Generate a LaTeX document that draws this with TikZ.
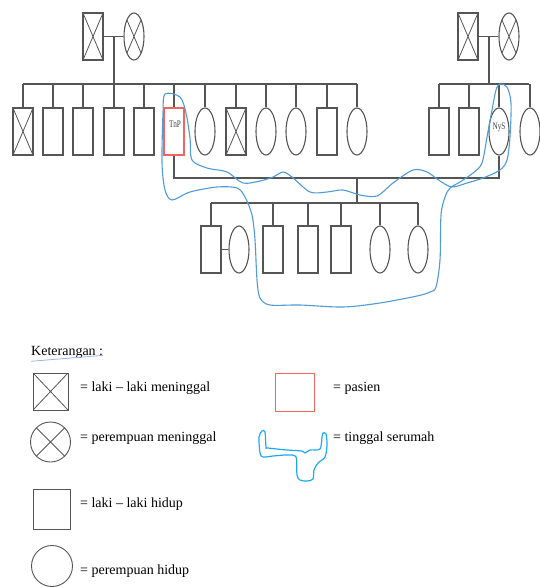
\documentclass[tikz,border=0pt]{standalone}
\usepackage{fontspec}
\setmainfont{Liberation Serif}
\usetikzlibrary{shapes.geometric}
\definecolor{lineg}{RGB}{85,85,85}
\definecolor{pasienred}{RGB}{240,100,100}
\definecolor{loopblue}{RGB}{80,155,215}
\definecolor{legblue}{RGB}{30,170,240}
\definecolor{ulblue}{RGB}{150,180,230}
\tikzset{
  lnk/.style={draw=lineg, line width=1.1pt},
  male/.style={draw=lineg, line width=1.1pt, rectangle, minimum width=20pt, minimum height=47pt, inner sep=0pt},
  female/.style={draw=lineg, line width=1.1pt, ellipse, minimum width=20pt, minimum height=47pt, inner sep=0pt},
  dead/.style={path picture={\draw[lineg, line width=0.8pt] (path picture bounding box.north west) -- (path picture bounding box.south east) (path picture bounding box.north east) -- (path picture bounding box.south west);}},
  tag/.style={font=\fontsize{10}{10}\selectfont, text=black!75, xscale=0.72, inner sep=0pt},
  legtext/.style={anchor=west, font=\fontsize{14}{16}\selectfont, inner sep=0pt, text=black},
}
\begin{document}
\begin{tikzpicture}[x=1pt,y=-1pt]
\useasboundingbox (0,0) rectangle (539,587);
% ---------- generation I ----------
\node[male,dead] (gm1) at (93,36.5) {};
\node[female,dead] (gf1) at (134,36.5) {};
\node[male,dead] (gm2) at (468,36.5) {};
\node[female,dead] (gf2) at (509,36.5) {};
\draw[lnk] (gm1.east) -- (gf1.west);
\draw[lnk] (gm2.east) -- (gf2.west);
\coordinate (d1) at (114,36.5);
\coordinate (d2) at (489,36.5);
\coordinate (b1l) at (23,84);
\coordinate (b1r) at (357,84);
\coordinate (b2l) at (439,84);
\coordinate (b2r) at (529,84);
\draw[lnk] (d1) -- (d1 |- b1l);
\draw[lnk] (d2) -- (d2 |- b2l);
\draw[lnk] (b1l) -- (b1r);
\draw[lnk] (b2l) -- (b2r);
% ---------- generation II ----------
\node[male,dead] (a1) at (23,131.5) {};
\node[male] (a2) at (53,131.5) {};
\node[male] (a3) at (83,131.5) {};
\node[male] (a4) at (114,131.5) {};
\node[male] (a5) at (144,131.5) {};
\node[male,draw=pasienred] (tnp) at (174,131.5) {};
\node[female] (a7) at (205,131.5) {};
\node[male,dead] (a8) at (236,131.5) {};
\node[female] (a9) at (266,131.5) {};
\node[female] (a10) at (296,131.5) {};
\node[male] (a11) at (327,131.5) {};
\node[female] (a12) at (357,131.5) {};
\node[tag] (tnpl) at (175,124.5) {TnP};
\foreach \n in {a1,a2,a3,a4,a5,tnp,a7,a8,a9,a10,a11,a12}
  \draw[lnk] (\n.north) -- (\n.north |- b1l);
\node[male] (r1) at (439,131.5) {};
\node[male] (r2) at (469,131.5) {};
\node[female] (nys) at (499,131.5) {};
\node[female] (r4) at (530,131.5) {};
\node[tag] (nysl) at (499,127) {NyS};
\foreach \n in {r1,r2,nys,r4}
  \draw[lnk] (\n.north) -- (\n.north |- b2l);
% marriage TnP - NyS
\coordinate (mm) at (357,178);
\draw[lnk] (tnp.south) |- (mm) -| (nys.south);
\coordinate (b3l) at (211,203);
\coordinate (b3r) at (418,203);
\draw[lnk] (mm) -- (mm |- b3l);
\draw[lnk] (b3l) -- (b3r);
% ---------- generation III ----------
\node[male] (c1) at (211,249.5) {};
\node[female] (c1s) at (239,249.5) {};
\node[male] (c2) at (273,249.5) {};
\node[male] (c3) at (308,249.5) {};
\node[male] (c4) at (341,249.5) {};
\node[female] (c5) at (380,249.5) {};
\node[female] (c6) at (418,249.5) {};
\draw[lnk] (c1.east) -- (c1s.west);
\foreach \n in {c1,c2,c3,c4,c5,c6}
  \draw[lnk] (\n.north) -- (\n.north |- b3l);
% ---------- household loop ----------
\draw[loopblue, line width=1.1pt] plot[smooth cycle, tension=0.5] coordinates {
(165,94) (180,97) (186,113) (190,138) (192,160) (207,168) (227,172) (243,183) (260,181)
(273,177) (283,172) (292,177) (310,192) (327,192) (343,190) (360,195) (377,196) (393,183)
(413,170) (427,172) (440,181) (452,187) (467,183) (483,178) (500,170) (507,160) (510,137)
(511,103) (507,87) (500,84) (496,90) (492,110) (487,137) (482,163) (473,173) (460,182)
(450,188) (445,197) (441,215) (440,260) (436,287) (430,292) (417,296) (380,303) (343,307)
(300,305) (270,305) (260,298) (257,280) (255,240) (252,215) (245,197) (237,188) (217,187)
(190,192) (172,200) (165,190) (162,163) (163,113)};
% ---------- legend ----------
\node[legtext] (ket) at (31,352) {Keterangan :};
\draw[ulblue, line width=0.8pt] (ket.south west) ++(0,3) -- ([yshift=3pt]ket.south east);
\node[draw=lineg, line width=0.9pt, minimum width=35pt, minimum height=37pt, inner sep=0pt, dead] (lg1) at (50.5,391.5) {};
\node[legtext] (lt1) at (80,388) {= laki -- laki meninggal};
\node[draw=lineg, line width=0.9pt, circle, minimum size=40pt, inner sep=0pt, dead] (lg2) at (50.5,442) {};
\node[legtext] (lt2) at (80,438) {= perempuan meninggal};
\node[draw=lineg, line width=0.9pt, minimum width=37pt, minimum height=40pt, inner sep=0pt] (lg3) at (51.5,509) {};
\node[legtext] (lt3) at (80,504) {= laki -- laki hidup};
\node[draw=lineg, line width=0.9pt, circle, minimum size=41pt, inner sep=0pt] (lg4) at (52,566) {};
\node[legtext] (lt4) at (80,571) {= perempuan hidup};
\node[draw=pasienred, line width=1pt, minimum width=39pt, minimum height=38pt, inner sep=0pt] (lg5) at (294.5,392) {};
\node[legtext] (lt5) at (333,388) {= pasien};
\draw[legblue, line width=1.2pt] plot[smooth cycle, tension=0.5] coordinates {
(260,453) (259,437) (262,431) (265,432) (266,447) (268,448) (287,450) (302,451) (305,453)
(310,450) (320,449) (322,437) (323,433) (326,434) (327,445) (325,457) (318,463) (314,470)
(313,479) (307,481) (300,480) (297,475) (296,457) (287,455) (273,456) (263,457)};
\node[legtext] (lt6) at (333,438) {= tinggal serumah};
\end{tikzpicture}
\end{document}
